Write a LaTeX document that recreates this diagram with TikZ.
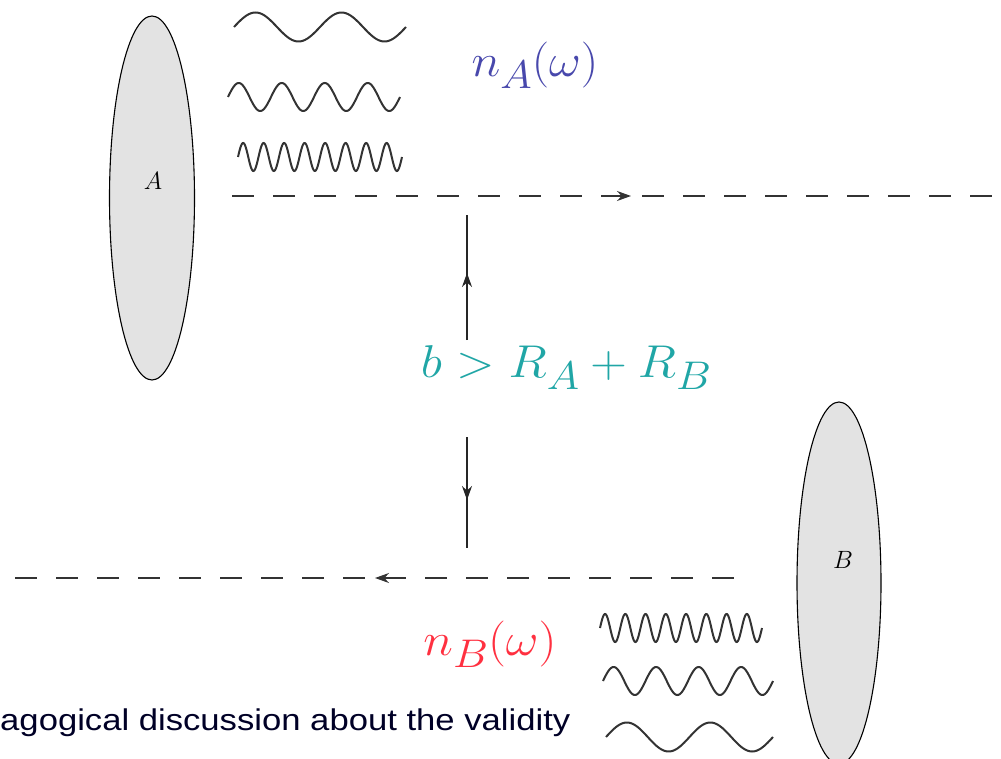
\RequirePackage{fix-cm}
\documentclass[tikz,border=0pt]{standalone}
\usepackage{fontspec}
\newfontfamily\capfont{Liberation Sans}
\usetikzlibrary{shapes.geometric,arrows.meta,decorations.markings}
\definecolor{ncolA}{HTML}{4848AC}
\definecolor{ncolB}{HTML}{FF3040}
\definecolor{tealc}{HTML}{20A6A6}
\definecolor{blobfill}{HTML}{E3E3E3}
\newcommand{\lsub}[1]{\raisebox{-12pt}{\fontsize{40}{40}\selectfont$#1$}}
\tikzset{
  blob/.style={draw=black, line width=1.1pt, fill=blobfill, ellipse, inner sep=0pt},
  wave/.style={line width=2pt, black!80},
  track/.style={line width=1.3pt, black!80, dash pattern=on 22pt off 19pt},
  gap/.style={line width=1.3pt, black!85},
  midarrow/.style={postaction={decorate}, decoration={markings, mark=at position #1 with {\arrow{Stealth[length=14pt,width=10pt]}}}},
  midarrowrev/.style={postaction={decorate}, decoration={markings, mark=at position #1 with {\arrowreversed{Stealth[length=14pt,width=10pt]}}}},
  blobname/.style={inner sep=0pt, font=\fontsize{25}{27}\selectfont},
  flux/.style={inner sep=0pt, font=\fontsize{46}{48}\selectfont},
}
\begin{document}
\begin{tikzpicture}[x=1pt, y=-1pt]
\useasboundingbox (0,0) rectangle (1001,759);
% blobs
\node[blob, minimum width=85pt, minimum height=364pt] (A) at (152,198) {};
\node[blob, minimum width=84pt, minimum height=362pt] (B) at (839,583) {};
\node[blobname] (Alab) at (153,181) {$A$};
\node[blobname] (Blab) at (843,560) {$B$};
% waves from A
\draw[wave] plot[domain=0:720, samples=120] ({234+\x/360*86}, {27-14.5*sin(\x)});
\draw[wave] plot[domain=0:1440, samples=200] ({228+\x/360*43}, {97-14*sin(\x)});
\draw[wave] plot[domain=0:2880, samples=320] ({238+\x/360*20.5}, {157-14*sin(\x)});
% waves from B
\draw[wave] plot[domain=0:2880, samples=320] ({600+\x/360*20.25}, {628-14*sin(\x)});
\draw[wave] plot[domain=0:1440, samples=200] ({603+\x/360*42.5}, {681-14*sin(\x)});
\draw[wave] plot[domain=0:720, samples=120] ({606+\x/360*83.5}, {737-14.5*sin(\x)});
% tracks
\coordinate (a0) at (232,196);
\coordinate (a1) at (1010,196);
\coordinate (b0) at (745,578);
\coordinate (b1) at (15,578);
\draw[track, midarrow=399pt] (a0) -- (a1);
\draw[track, midarrowrev=360pt] (b1) -- (b0);
% impact parameter
\node[flux, text=tealc, anchor=base, xscale=1.1] (bb) at (566,377) {$b>R\lsub{A}+R\lsub{B}$};
\coordinate (u0) at (467,340);
\coordinate (u1) at (467,215);
\coordinate (d0) at (467,437);
\coordinate (d1) at (467,548);
\draw[gap, midarrow=67pt] (u0) -- (u1);
\draw[gap, midarrow=63pt] (d0) -- (d1);
% labels
\node[flux, text=ncolA, anchor=base, xscale=1.07] (nA) at (535,77) {$n\lsub{A}(\omega)$};
\node[flux, text=ncolB, anchor=base, xscale=1.1] (nB) at (490,655) {$n\lsub{B}(\omega)$};
\node[anchor=base west, inner sep=0pt, text=black!85!blue, font=\capfont\fontsize{30}{32}\selectfont, xscale=1.155] (cap) at (0,730) {agogical discussion about the validity};
\end{tikzpicture}
\end{document}
